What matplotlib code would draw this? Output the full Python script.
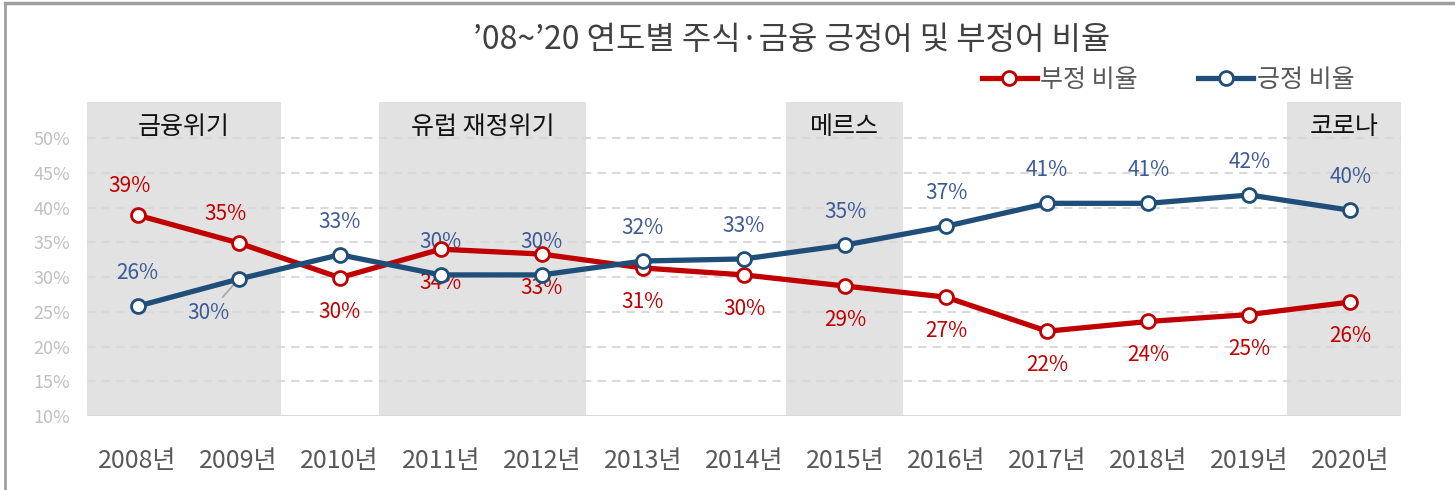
import matplotlib.pyplot as plt
from matplotlib.lines import Line2D
from matplotlib.ticker import FuncFormatter

plt.rcParams['font.family'] = ['Noto Sans CJK KR', 'DejaVu Sans']

years = ['2008년', '2009년', '2010년', '2011년', '2012년', '2013년', '2014년',
         '2015년', '2016년', '2017년', '2018년', '2019년', '2020년']
neg = [38.9, 34.9, 29.9, 34.0, 33.3, 31.3, 30.3, 28.7, 27.1, 22.2, 23.6, 24.6, 26.4]
pos = [25.8, 29.7, 33.2, 30.3, 30.3, 32.3, 32.6, 34.6, 37.3, 40.6, 40.6, 41.8, 39.6]

events = ['금융위기', '유럽 재정위기', '메르스', '코로나']
event_start = [-0.5, 2.39, 6.42, 11.37]
event_end = [1.42, 4.44, 7.57, 12.5]

RED = '#c00000'
BLUE = '#1f4e79'
RED_TXT = '#c00000'
BLUE_TXT = '#3d5a98'

fig = plt.figure(figsize=(14.55, 4.9), dpi=100)
ax = fig.add_axes([87 / 1455, 74 / 490, 1314 / 1455, 314 / 490])

x = list(range(len(years)))

# shaded event periods
for name, s, e in zip(events, event_start, event_end):
    ax.axvspan(s, e, color='#e2e2e2', lw=0, zorder=0)
    ax.text((s + e) / 2, 0.92, name, transform=ax.get_xaxis_transform(),
            ha='center', va='center', fontsize=18, color='#111111', zorder=1)

# grid
for g in range(15, 55, 5):
    ax.axhline(g, color='#d9d9d9', lw=1.5, ls=(0, (4, 3)), zorder=1)
ax.axhline(10, color='#d9d9d9', lw=1.5, zorder=1)

ax.plot(x, neg, color=RED, lw=3.8, marker='o', ms=10, mfc='white',
        mec=RED, mew=2, zorder=4, solid_capstyle='round')
ax.plot(x, pos, color=BLUE, lw=3.8, marker='o', ms=10, mfc='white',
        mec=BLUE, mew=2, zorder=4, solid_capstyle='round')

# data labels
for i, v in enumerate(neg):
    dy = 29 if i < 2 else -34
    dx = -13 if i == 1 else -8 if i == 0 else 0
    ax.annotate(f'{round(v)}%', (i, v), xytext=(dx, dy), textcoords='offset pixels',
                ha='center', va='center', fontsize=15, color=RED_TXT, zorder=3)
for i, v in enumerate(pos):
    if i == 1:
        ax.annotate(f'{round(v)}%', (i, v), xytext=(-30, -34), textcoords='offset pixels',
                    ha='center', va='center', fontsize=15, color=BLUE_TXT, zorder=3,
                    arrowprops=dict(arrowstyle='-', color='#a6a6a6', lw=1.2,
                                    shrinkA=2, shrinkB=6))
    else:
        ax.annotate(f'{round(v)}%', (i, v), xytext=(0, 33), textcoords='offset pixels',
                    ha='center', va='center', fontsize=15, color=BLUE_TXT, zorder=3)

ax.set_xlim(-0.5, len(years) - 0.5)
ax.set_ylim(10, 55.18)
ax.set_yticks(range(10, 55, 5))
ax.yaxis.set_major_formatter(FuncFormatter(lambda v, p: f'{int(v)}%'))
ax.set_xticks(x)
ax.set_xticklabels(years)
ax.tick_params(axis='y', length=0, pad=12, labelsize=13, labelcolor='#c0c0c0')
ax.tick_params(axis='x', length=0, pad=23, labelsize=18, labelcolor='#595959')
for sp in ax.spines.values():
    sp.set_visible(False)

fig.text(792 / 1455, 1 - 40 / 490, '’08~’20 연도별 주식·금융 긍정어 및 부정어 비율',
         ha='center', va='center', fontsize=23, color='#404040')

handles = [Line2D([], [], color=RED, lw=3.8, marker='o', ms=10, mfc='white', mec=RED, mew=2),
           Line2D([], [], color=BLUE, lw=3.8, marker='o', ms=10, mfc='white', mec=BLUE, mew=2)]
leg = fig.legend(handles, ['부정 비율', '긍정 비율'], loc='center', ncol=2,
                 bbox_to_anchor=(1168 / 1455, 1 - 80 / 490), frameon=False,
                 fontsize=18, handlelength=2.2, handletextpad=0.15, columnspacing=2.4)
for t in leg.get_texts():
    t.set_color('#595959')

# outer frame (left and top edges)
fig.add_artist(Line2D([5 / 1455, 5 / 1455], [0, 1 - 3 / 490], color='#a0a0a0', lw=2))
fig.add_artist(Line2D([5 / 1455, 1], [1 - 3 / 490, 1 - 3 / 490], color='#a0a0a0', lw=2.5))

fig.savefig('out.png', dpi=100)
